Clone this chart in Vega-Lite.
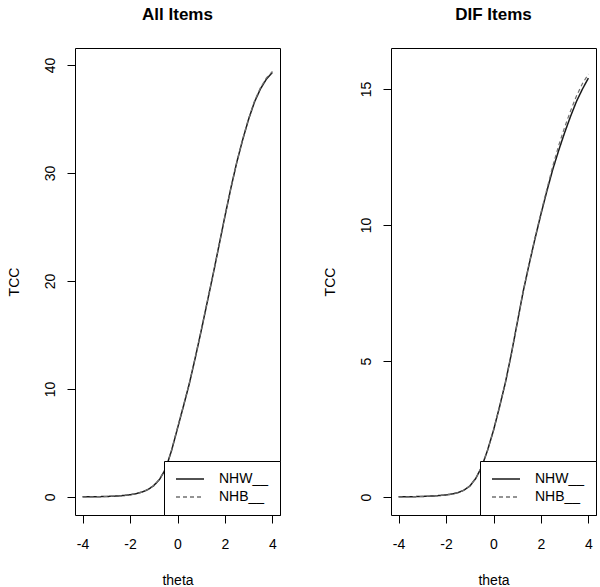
{
  "$schema": "https://vega.github.io/schema/vega-lite/v6.json",
  "background": "white",
  "padding": {"left": 6, "top": 5, "right": 0, "bottom": 0},
  "data": {"values": [
    {"p":"A","g":"NHW__","t":-4,"y":0.01},{"p":"A","g":"NHW__","t":-3.75,"y":0.015},{"p":"A","g":"NHW__","t":-3.5,"y":0.02},{"p":"A","g":"NHW__","t":-3.25,"y":0.03},{"p":"A","g":"NHW__","t":-3,"y":0.045},{"p":"A","g":"NHW__","t":-2.75,"y":0.065},{"p":"A","g":"NHW__","t":-2.5,"y":0.09},{"p":"A","g":"NHW__","t":-2.25,"y":0.14},{"p":"A","g":"NHW__","t":-2,"y":0.2},{"p":"A","g":"NHW__","t":-1.75,"y":0.3},{"p":"A","g":"NHW__","t":-1.5,"y":0.45},{"p":"A","g":"NHW__","t":-1.25,"y":0.68},{"p":"A","g":"NHW__","t":-1,"y":1.05},{"p":"A","g":"NHW__","t":-0.75,"y":1.65},{"p":"A","g":"NHW__","t":-0.5,"y":2.6},{"p":"A","g":"NHW__","t":-0.25,"y":4.3},{"p":"A","g":"NHW__","t":0,"y":6.35},{"p":"A","g":"NHW__","t":0.25,"y":8.4},{"p":"A","g":"NHW__","t":0.5,"y":10.5},{"p":"A","g":"NHW__","t":0.75,"y":12.9},{"p":"A","g":"NHW__","t":1,"y":15.4},{"p":"A","g":"NHW__","t":1.25,"y":18.0},{"p":"A","g":"NHW__","t":1.5,"y":20.6},{"p":"A","g":"NHW__","t":1.75,"y":23.3},{"p":"A","g":"NHW__","t":2,"y":26.0},{"p":"A","g":"NHW__","t":2.25,"y":28.6},{"p":"A","g":"NHW__","t":2.5,"y":31.0},{"p":"A","g":"NHW__","t":2.75,"y":33.1},{"p":"A","g":"NHW__","t":3,"y":35.0},{"p":"A","g":"NHW__","t":3.25,"y":36.6},{"p":"A","g":"NHW__","t":3.5,"y":37.8},{"p":"A","g":"NHW__","t":3.75,"y":38.7},{"p":"A","g":"NHW__","t":4,"y":39.3},
    {"p":"A","g":"NHB__","t":-4,"y":0.01},{"p":"A","g":"NHB__","t":-3.75,"y":0.015},{"p":"A","g":"NHB__","t":-3.5,"y":0.02},{"p":"A","g":"NHB__","t":-3.25,"y":0.03},{"p":"A","g":"NHB__","t":-3,"y":0.045},{"p":"A","g":"NHB__","t":-2.75,"y":0.065},{"p":"A","g":"NHB__","t":-2.5,"y":0.09},{"p":"A","g":"NHB__","t":-2.25,"y":0.14},{"p":"A","g":"NHB__","t":-2,"y":0.2},{"p":"A","g":"NHB__","t":-1.75,"y":0.3},{"p":"A","g":"NHB__","t":-1.5,"y":0.45},{"p":"A","g":"NHB__","t":-1.25,"y":0.69},{"p":"A","g":"NHB__","t":-1,"y":1.06},{"p":"A","g":"NHB__","t":-0.75,"y":1.67},{"p":"A","g":"NHB__","t":-0.5,"y":2.63},{"p":"A","g":"NHB__","t":-0.25,"y":4.35},{"p":"A","g":"NHB__","t":0,"y":6.4},{"p":"A","g":"NHB__","t":0.25,"y":8.45},{"p":"A","g":"NHB__","t":0.5,"y":10.55},{"p":"A","g":"NHB__","t":0.75,"y":12.95},{"p":"A","g":"NHB__","t":1,"y":15.45},{"p":"A","g":"NHB__","t":1.25,"y":18.05},{"p":"A","g":"NHB__","t":1.5,"y":20.6},{"p":"A","g":"NHB__","t":1.75,"y":23.3},{"p":"A","g":"NHB__","t":2,"y":26.0},{"p":"A","g":"NHB__","t":2.25,"y":28.6},{"p":"A","g":"NHB__","t":2.5,"y":31.0},{"p":"A","g":"NHB__","t":2.75,"y":33.15},{"p":"A","g":"NHB__","t":3,"y":35.05},{"p":"A","g":"NHB__","t":3.25,"y":36.7},{"p":"A","g":"NHB__","t":3.5,"y":37.9},{"p":"A","g":"NHB__","t":3.75,"y":38.8},{"p":"A","g":"NHB__","t":4,"y":39.4},
    {"p":"B","g":"NHW__","t":-4,"y":0.005},{"p":"B","g":"NHW__","t":-3.75,"y":0.007},{"p":"B","g":"NHW__","t":-3.5,"y":0.01},{"p":"B","g":"NHW__","t":-3.25,"y":0.014},{"p":"B","g":"NHW__","t":-3,"y":0.02},{"p":"B","g":"NHW__","t":-2.75,"y":0.028},{"p":"B","g":"NHW__","t":-2.5,"y":0.04},{"p":"B","g":"NHW__","t":-2.25,"y":0.055},{"p":"B","g":"NHW__","t":-2,"y":0.075},{"p":"B","g":"NHW__","t":-1.75,"y":0.11},{"p":"B","g":"NHW__","t":-1.5,"y":0.16},{"p":"B","g":"NHW__","t":-1.25,"y":0.25},{"p":"B","g":"NHW__","t":-1,"y":0.4},{"p":"B","g":"NHW__","t":-0.75,"y":0.68},{"p":"B","g":"NHW__","t":-0.5,"y":1.1},{"p":"B","g":"NHW__","t":-0.25,"y":1.72},{"p":"B","g":"NHW__","t":0,"y":2.45},{"p":"B","g":"NHW__","t":0.25,"y":3.3},{"p":"B","g":"NHW__","t":0.5,"y":4.2},{"p":"B","g":"NHW__","t":0.75,"y":5.25},{"p":"B","g":"NHW__","t":1,"y":6.4},{"p":"B","g":"NHW__","t":1.25,"y":7.55},{"p":"B","g":"NHW__","t":1.5,"y":8.55},{"p":"B","g":"NHW__","t":1.75,"y":9.5},{"p":"B","g":"NHW__","t":2,"y":10.4},{"p":"B","g":"NHW__","t":2.25,"y":11.25},{"p":"B","g":"NHW__","t":2.5,"y":12.05},{"p":"B","g":"NHW__","t":2.75,"y":12.75},{"p":"B","g":"NHW__","t":3,"y":13.4},{"p":"B","g":"NHW__","t":3.25,"y":14.0},{"p":"B","g":"NHW__","t":3.5,"y":14.55},{"p":"B","g":"NHW__","t":3.75,"y":15.0},{"p":"B","g":"NHW__","t":4,"y":15.4},
    {"p":"B","g":"NHB__","t":-4,"y":0.005},{"p":"B","g":"NHB__","t":-3.75,"y":0.007},{"p":"B","g":"NHB__","t":-3.5,"y":0.01},{"p":"B","g":"NHB__","t":-3.25,"y":0.014},{"p":"B","g":"NHB__","t":-3,"y":0.02},{"p":"B","g":"NHB__","t":-2.75,"y":0.028},{"p":"B","g":"NHB__","t":-2.5,"y":0.04},{"p":"B","g":"NHB__","t":-2.25,"y":0.055},{"p":"B","g":"NHB__","t":-2,"y":0.075},{"p":"B","g":"NHB__","t":-1.75,"y":0.11},{"p":"B","g":"NHB__","t":-1.5,"y":0.16},{"p":"B","g":"NHB__","t":-1.25,"y":0.25},{"p":"B","g":"NHB__","t":-1,"y":0.4},{"p":"B","g":"NHB__","t":-0.75,"y":0.68},{"p":"B","g":"NHB__","t":-0.5,"y":1.1},{"p":"B","g":"NHB__","t":-0.25,"y":1.72},{"p":"B","g":"NHB__","t":0,"y":2.45},{"p":"B","g":"NHB__","t":0.25,"y":3.3},{"p":"B","g":"NHB__","t":0.5,"y":4.2},{"p":"B","g":"NHB__","t":0.75,"y":5.25},{"p":"B","g":"NHB__","t":1,"y":6.4},{"p":"B","g":"NHB__","t":1.25,"y":7.55},{"p":"B","g":"NHB__","t":1.5,"y":8.57},{"p":"B","g":"NHB__","t":1.75,"y":9.53},{"p":"B","g":"NHB__","t":2,"y":10.45},{"p":"B","g":"NHB__","t":2.25,"y":11.32},{"p":"B","g":"NHB__","t":2.5,"y":12.17},{"p":"B","g":"NHB__","t":2.75,"y":12.93},{"p":"B","g":"NHB__","t":3,"y":13.6},{"p":"B","g":"NHB__","t":3.25,"y":14.2},{"p":"B","g":"NHB__","t":3.5,"y":14.75},{"p":"B","g":"NHB__","t":3.75,"y":15.2},{"p":"B","g":"NHB__","t":4,"y":15.55}
  ]},
  "spacing": 111,
  "bounds": "flush",
  "resolve": {
    "scale": {"color": "independent", "strokeDash": "independent"},
    "legend": {"color": "independent", "strokeDash": "independent"}
  },
  "hconcat": [
    {
      "width": 205,
      "height": 467,
      "title": {"text": "All Items", "fontSize": 17, "fontWeight": "bold", "font": "Liberation Sans", "color": "black", "frame": "group", "anchor": "middle", "baseline": "alphabetic", "offset": 11.5},
      "transform": [{"filter": "datum.p == 'A'"}],
      "encoding": {
        "x": {"field": "t", "type": "quantitative", "scale": {"domain": [-4.32, 4.32], "nice": false, "zero": false}, "axis": {"values": [-4, -2, 0, 2, 4], "title": "theta", "labelExpr": "'' + datum.value"}},
        "y": {"field": "y", "type": "quantitative", "scale": {"domain": [-1.67, 41.57], "nice": false, "zero": false}, "axis": {"values": [0, 10, 20, 30, 40], "title": "TCC"}},
        "color": {"field": "g", "type": "nominal", "scale": {"domain": ["NHW__", "NHB__"], "range": ["#1a1a1a", "#707070"]},
          "legend": {"title": null, "orient": "bottom-right", "offset": 0, "padding": 11, "strokeColor": "black", "fillColor": "white", "cornerRadius": 0, "symbolType": "stroke", "symbolSize": 784, "symbolStrokeWidth": 1.5, "labelFontSize": 14, "labelFont": "Liberation Sans", "labelColor": "black", "labelOffset": 14, "rowPadding": 4, "clipHeight": 14, "labelLimit": 200}},
        "strokeDash": {"field": "g", "type": "nominal", "scale": {"domain": ["NHW__", "NHB__"], "range": [[1, 0], [4, 3]]},
          "legend": {"title": null, "orient": "bottom-right", "offset": 0, "padding": 11, "strokeColor": "black", "fillColor": "white", "cornerRadius": 0, "symbolType": "stroke", "symbolSize": 784, "symbolStrokeWidth": 1.5, "labelFontSize": 14, "labelFont": "Liberation Sans", "labelColor": "black", "labelOffset": 14, "rowPadding": 4, "clipHeight": 14, "labelLimit": 200}}
      },
      "layer": [
        {"transform": [{"filter": "datum.g == 'NHW__'"}], "mark": {"type": "line", "strokeWidth": 1.5}},
        {"transform": [{"filter": "datum.g == 'NHB__'"}], "mark": {"type": "line", "strokeWidth": 1.2}}
      ]
    },
    {
      "width": 205,
      "height": 467,
      "title": {"text": "DIF Items", "fontSize": 17, "fontWeight": "bold", "font": "Liberation Sans", "color": "black", "frame": "group", "anchor": "middle", "baseline": "alphabetic", "offset": 11.5},
      "transform": [{"filter": "datum.p == 'B'"}],
      "encoding": {
        "x": {"field": "t", "type": "quantitative", "scale": {"domain": [-4.32, 4.32], "nice": false, "zero": false}, "axis": {"values": [-4, -2, 0, 2, 4], "title": "theta", "labelExpr": "'' + datum.value"}},
        "y": {"field": "y", "type": "quantitative", "scale": {"domain": [-0.662, 16.507], "nice": false, "zero": false}, "axis": {"values": [0, 5, 10, 15], "title": "TCC"}},
        "color": {"field": "g", "type": "nominal", "scale": {"domain": ["NHW__", "NHB__"], "range": ["#1a1a1a", "#707070"]},
          "legend": {"title": null, "orient": "bottom-right", "offset": 0, "padding": 11, "strokeColor": "black", "fillColor": "white", "cornerRadius": 0, "symbolType": "stroke", "symbolSize": 784, "symbolStrokeWidth": 1.5, "labelFontSize": 14, "labelFont": "Liberation Sans", "labelColor": "black", "labelOffset": 14, "rowPadding": 4, "clipHeight": 14, "labelLimit": 200}},
        "strokeDash": {"field": "g", "type": "nominal", "scale": {"domain": ["NHW__", "NHB__"], "range": [[1, 0], [4, 3]]},
          "legend": {"title": null, "orient": "bottom-right", "offset": 0, "padding": 11, "strokeColor": "black", "fillColor": "white", "cornerRadius": 0, "symbolType": "stroke", "symbolSize": 784, "symbolStrokeWidth": 1.5, "labelFontSize": 14, "labelFont": "Liberation Sans", "labelColor": "black", "labelOffset": 14, "rowPadding": 4, "clipHeight": 14, "labelLimit": 200}}
      },
      "layer": [
        {"transform": [{"filter": "datum.g == 'NHW__'"}], "mark": {"type": "line", "strokeWidth": 1.5}},
        {"transform": [{"filter": "datum.g == 'NHB__'"}], "mark": {"type": "line", "strokeWidth": 1.2}}
      ]
    }
  ],
  "config": {
    "font": "Liberation Sans",
    "view": {"stroke": "black", "strokeWidth": 1},
    "axis": {"grid": false, "domain": false, "tickColor": "black", "tickSize": 8, "tickWidth": 1, "labelFontSize": 14, "labelColor": "black", "labelFont": "Liberation Sans", "titleFontSize": 14, "titleFontWeight": "normal", "titleColor": "black", "titleFont": "Liberation Sans"},
    "axisX": {"labelPadding": 14, "labelBaseline": "top", "titleX": 102.5, "titleY": 69, "titleAlign": "center", "titleBaseline": "alphabetic"},
    "axisY": {"labelAngle": 270, "labelAlign": "center", "labelBaseline": "middle", "labelPadding": 17, "titleAngle": 270, "titleX": -57, "titleY": 233.5, "titleAlign": "center", "titleBaseline": "alphabetic"}
  }
}
